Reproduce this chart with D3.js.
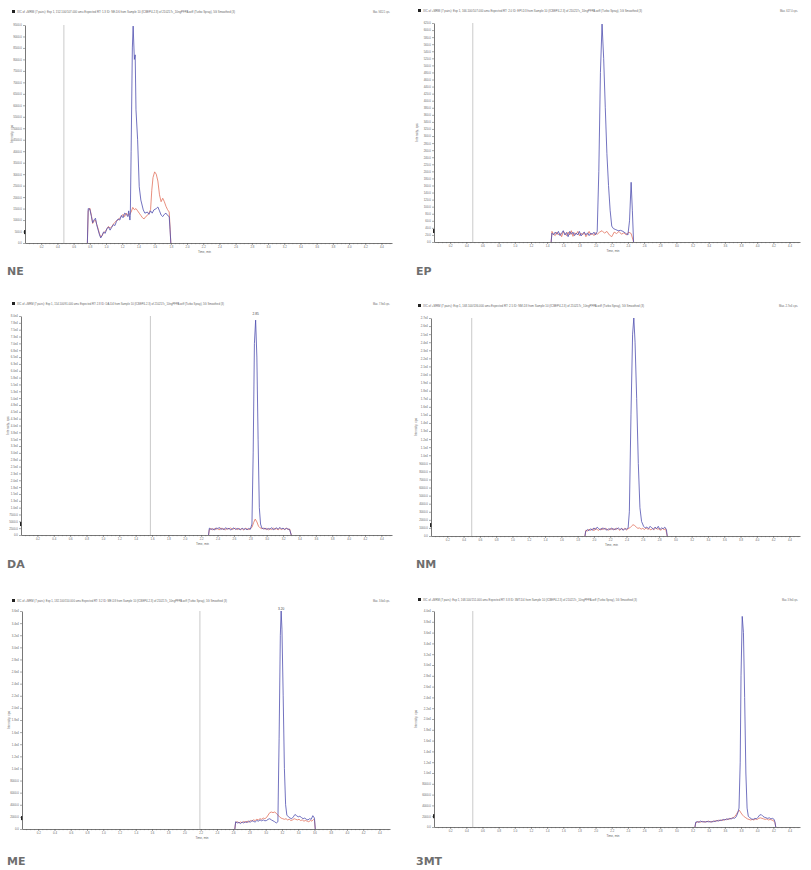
<!DOCTYPE html>
<html><head><meta charset="utf-8">
<script src="https://cdn.jsdelivr.net/npm/d3@7"></script>
<style>body{margin:0;background:#fff}svg{display:block}</style>
</head><body>
<svg id="c" width="811" height="870"></svg>
<script>
// ---------------- DATA ----------------
const panelNames = ["NE", "EP", "DA", "NM", "ME", "3MT"];
const titles = [
  "XIC of +MRM (7 pairs): Exp 1, 152.100/107.000 amu Expected RT: 1.3 ID: NE-D6 from Sample 10 (ICBEP4-2.3) of 210217c_10ngPFPA.wiff (Turbo Spray), 5G Smoothed (3)",
  "XIC of +MRM (7 pairs): Exp 1, 166.100/107.000 amu Expected RT: 2.0 ID: EPI-D3 from Sample 10 (ICBEP4-2.3) of 210217c_10ngPFPA.wiff (Turbo Spray), 5G Smoothed (3)",
  "XIC of +MRM (7 pairs): Exp 1, 154.100/91.000 amu Expected RT: 2.8 ID: DA-D4 from Sample 10 (ICBEP4-2.3) of 210217c_10ngPFPA.wiff (Turbo Spray), 5G Smoothed (3)",
  "XIC of +MRM (7 pairs): Exp 1, 168.100/136.000 amu Expected RT: 2.5 ID: NM-D3 from Sample 10 (ICBEP4-2.3) of 210217c_10ngPFPA.wiff (Turbo Spray), 5G Smoothed (3)",
  "XIC of +MRM (7 pairs): Exp 1, 182.100/150.000 amu Expected RT: 3.2 ID: ME-D3 from Sample 10 (ICBEP4-2.3) of 210217c_10ngPFPA.wiff (Turbo Spray), 5G Smoothed (3)",
  "XIC of +MRM (7 pairs): Exp 1, 168.100/151.000 amu Expected RT: 3.8 ID: 3MT-D4 from Sample 10 (ICBEP4-2.3) of 210217c_10ngPFPA.wiff (Turbo Spray), 5G Smoothed (3)"
];
const maxLabels = ["Max. 9452.1 cps.", "Max. 617.0 cps.", "Max. 7.9e4 cps.", "Max. 2.7e4 cps.", "Max. 3.6e4 cps.", "Max. 3.9e4 cps."];
const yMax = [9500, 620, 80000, 27000, 36000, 40000];
const yStep = [500, 20, 2500, 1000, 2000, 2000];
const xMax = 4.53;
const xTicks = [0.2,0.4,0.6,0.8,1.0,1.2,1.4,1.6,1.8,2.0,2.2,2.4,2.6,2.8,3.0,3.2,3.4,3.6,3.8,4.0,4.2,4.4];
const xTickLabels = ["0.2","0.4","0.6","0.8","1.0","1.2","1.4","1.6","1.8","2.0","2.2","2.4","2.6","2.8","3.0","3.2","3.4","3.6","3.8","4.0","4.2","4.4"];
const markerTimes = [0.48, 0.48, 1.58, 0.5, 2.19, 0.48];
const peakLabelTimes = [null, null, 2.865, null, 3.19, null];
const peakLabelTexts = [null, null, "2.85", null, "3.20", null];
const xTitle = "Time, min";
const yTitle = "Intensity, cps";

const neBlue = [[0.77,0],[0.78,1500],[0.80,1480],[0.82,1150],[0.835,880],[0.85,1000],[0.87,1080],[0.885,800],[0.90,600],[0.92,350],[0.935,220],[0.95,320],[0.97,480],[0.99,420],[1.01,620],[1.03,700],[1.05,560],[1.07,680],[1.09,800],[1.11,760],[1.13,950],[1.15,1050],[1.17,1000],[1.19,1200],[1.21,1100],[1.23,1300],[1.25,1250],[1.27,1150],[1.28,1400],[1.295,1000],[1.30,1200],[1.31,4000],[1.325,8500],[1.335,9452],[1.35,8000],[1.36,8200],[1.37,5800],[1.39,4500],[1.41,2450],[1.43,1870],[1.46,1440],[1.48,1300],[1.51,1350],[1.53,1250],[1.55,1400],[1.57,1300],[1.59,1440],[1.62,1500],[1.64,1570],[1.66,1400],[1.68,1220],[1.70,1150],[1.72,1250],[1.74,1300],[1.76,1200],[1.78,1150],[1.79,600],[1.80,0]];
const neRed = [[0.77,0],[0.78,1400],[0.80,1520],[0.82,1200],[0.835,850],[0.85,950],[0.87,1000],[0.885,820],[0.90,650],[0.92,400],[0.935,260],[0.95,300],[0.97,450],[0.99,500],[1.01,600],[1.03,720],[1.05,650],[1.07,700],[1.09,820],[1.11,900],[1.13,980],[1.15,1000],[1.17,1100],[1.19,1150],[1.21,1250],[1.23,1150],[1.25,1300],[1.27,1200],[1.29,1250],[1.31,1350],[1.33,1550],[1.35,1450],[1.37,1500],[1.39,1400],[1.41,1300],[1.43,1200],[1.45,1100],[1.47,1050],[1.49,1150],[1.51,1200],[1.53,1300],[1.55,1450],[1.565,2300],[1.58,2850],[1.60,3100],[1.62,3000],[1.64,2700],[1.66,2100],[1.68,1800],[1.70,1950],[1.72,1800],[1.74,1600],[1.76,1450],[1.78,1350],[1.79,700],[1.80,0]];

const epBlue = [[1.45,0],[1.46,25],[1.48,20],[1.50,28],[1.52,22],[1.54,30],[1.56,18],[1.58,25],[1.60,32],[1.62,20],[1.64,27],[1.66,15],[1.68,30],[1.70,22],[1.72,28],[1.74,18],[1.76,25],[1.78,20],[1.80,30],[1.82,17],[1.84,24],[1.86,28],[1.88,20],[1.90,26],[1.92,18],[1.94,25],[1.96,22],[1.98,28],[2.00,20],[2.02,30],[2.04,200],[2.06,480],[2.08,617],[2.10,520],[2.12,380],[2.14,250],[2.16,160],[2.18,90],[2.20,45],[2.22,38],[2.25,35],[2.28,32],[2.31,33],[2.34,30],[2.37,25],[2.40,20],[2.42,60],[2.44,169],[2.455,90],[2.47,0]];
const epRed = [[1.45,0],[1.46,30],[1.48,22],[1.50,18],[1.52,28],[1.54,20],[1.56,25],[1.58,15],[1.60,30],[1.62,24],[1.64,18],[1.66,28],[1.68,20],[1.70,32],[1.72,16],[1.74,26],[1.76,22],[1.78,30],[1.80,18],[1.82,25],[1.84,20],[1.86,27],[1.88,15],[1.90,22],[1.92,30],[1.94,20],[1.96,24],[1.98,18],[2.00,26],[2.02,22],[2.05,28],[2.08,32],[2.11,25],[2.14,30],[2.17,20],[2.20,15],[2.23,28],[2.26,24],[2.29,30],[2.32,22],[2.35,26],[2.38,20],[2.41,28],[2.44,24],[2.47,0]];

const daBlue = [[2.29,0],[2.30,2500],[2.32,2000],[2.34,2300],[2.36,1800],[2.38,2600],[2.40,2200],[2.42,2800],[2.44,2000],[2.46,2400],[2.48,1900],[2.50,2700],[2.52,2100],[2.54,2500],[2.56,1800],[2.58,2300],[2.60,2600],[2.62,2000],[2.64,2400],[2.66,2200],[2.68,1900],[2.70,2500],[2.72,2100],[2.74,2300],[2.76,1900],[2.78,2400],[2.80,2100],[2.82,4000],[2.835,30000],[2.85,70000],[2.865,78500],[2.88,65000],[2.895,35000],[2.91,10000],[2.925,4000],[2.94,2600],[2.96,2200],[2.98,2500],[3.00,2000],[3.02,2400],[3.04,2100],[3.06,2700],[3.08,1900],[3.10,2300],[3.12,2600],[3.14,2100],[3.16,2800],[3.18,2200],[3.20,2500],[3.22,2000],[3.24,2400],[3.26,2200],[3.28,2000],[3.30,0]];
const daRed = [[2.29,0],[2.30,2000],[2.32,2400],[2.34,1900],[2.36,2300],[2.38,2000],[2.40,2500],[2.42,1800],[2.44,2600],[2.46,2100],[2.48,2300],[2.50,1900],[2.52,2400],[2.54,2200],[2.56,2600],[2.58,2000],[2.60,2300],[2.62,2500],[2.64,1900],[2.66,2400],[2.68,2100],[2.70,2300],[2.72,1800],[2.74,2500],[2.76,2200],[2.78,2000],[2.80,2300],[2.82,2800],[2.84,4500],[2.86,5800],[2.88,4800],[2.90,3200],[2.92,2600],[2.94,2300],[2.96,2500],[2.98,2100],[3.00,2400],[3.02,1900],[3.04,2300],[3.06,2000],[3.08,2500],[3.10,2100],[3.12,2300],[3.14,1900],[3.16,2400],[3.18,2000],[3.20,2300],[3.22,2100],[3.24,2500],[3.26,2000],[3.28,2200],[3.30,0]];

const nmBlue = [[1.89,0],[1.90,600],[1.92,800],[1.94,650],[1.96,900],[1.98,700],[2.00,1000],[2.02,800],[2.04,1100],[2.06,900],[2.08,750],[2.10,1000],[2.12,850],[2.14,950],[2.16,700],[2.18,900],[2.20,800],[2.22,1000],[2.24,750],[2.26,900],[2.28,850],[2.30,1000],[2.32,800],[2.34,950],[2.36,700],[2.38,900],[2.40,850],[2.42,1000],[2.435,3000],[2.455,15000],[2.475,25000],[2.49,27000],[2.505,24000],[2.525,17000],[2.545,9000],[2.565,3500],[2.585,1800],[2.61,1200],[2.63,1000],[2.65,1100],[2.67,900],[2.69,1200],[2.71,1000],[2.73,800],[2.75,1100],[2.77,900],[2.79,1200],[2.81,800],[2.83,1000],[2.85,900],[2.87,1100],[2.89,800],[2.90,0]];
const nmRed = [[1.89,0],[1.90,700],[1.92,600],[1.94,850],[1.96,700],[1.98,900],[2.00,650],[2.02,950],[2.04,800],[2.06,700],[2.08,900],[2.10,750],[2.12,1000],[2.14,800],[2.16,900],[2.18,700],[2.20,950],[2.22,800],[2.24,900],[2.26,750],[2.28,1000],[2.30,850],[2.32,700],[2.34,900],[2.36,800],[2.38,950],[2.40,750],[2.42,900],[2.44,1000],[2.46,1200],[2.48,1400],[2.50,1300],[2.52,1100],[2.54,950],[2.56,1000],[2.58,850],[2.60,950],[2.62,800],[2.64,1000],[2.66,850],[2.68,900],[2.70,750],[2.72,950],[2.74,800],[2.76,1000],[2.78,850],[2.80,900],[2.82,700],[2.84,950],[2.86,800],[2.88,900],[2.90,0]];

const meBlue = [[2.62,0],[2.63,1200],[2.65,1000],[2.67,1100],[2.69,900],[2.71,1150],[2.73,1000],[2.75,1200],[2.77,1050],[2.79,1300],[2.81,1100],[2.83,1400],[2.85,1250],[2.87,1150],[2.89,1400],[2.91,1300],[2.93,1500],[2.95,1350],[2.97,1500],[2.99,1350],[3.01,1400],[3.03,1600],[3.05,1700],[3.07,1500],[3.09,1350],[3.11,1200],[3.13,1000],[3.15,1200],[3.165,15000],[3.18,32000],[3.19,36000],[3.20,33000],[3.215,22000],[3.23,10000],[3.245,4000],[3.26,2300],[3.28,2000],[3.30,1800],[3.32,1700],[3.34,2000],[3.36,2400],[3.38,2200],[3.40,2000],[3.42,2100],[3.44,1900],[3.46,1700],[3.48,1800],[3.50,1600],[3.52,1500],[3.54,1700],[3.56,1600],[3.58,2200],[3.60,1800],[3.61,0]];
const meRed = [[2.62,0],[2.63,1100],[2.65,1200],[2.67,1000],[2.69,1150],[2.71,1050],[2.73,1250],[2.75,1100],[2.77,1300],[2.79,1150],[2.81,1400],[2.83,1300],[2.85,1500],[2.87,1400],[2.89,1600],[2.91,1500],[2.93,1700],[2.95,1600],[2.97,1800],[2.99,1700],[3.01,1900],[3.03,2300],[3.05,2700],[3.07,2800],[3.09,2700],[3.11,2800],[3.13,2600],[3.15,2300],[3.17,2000],[3.19,1800],[3.21,1700],[3.23,1600],[3.25,1700],[3.27,1500],[3.29,1600],[3.31,1400],[3.33,1500],[3.35,1700],[3.37,1600],[3.39,1500],[3.41,1600],[3.43,1400],[3.45,1500],[3.47,1300],[3.49,1400],[3.51,1300],[3.53,1200],[3.55,1400],[3.57,1300],[3.59,1600],[3.60,1500],[3.61,0]];

const mtBlue = [[3.23,0],[3.24,900],[3.26,1000],[3.28,850],[3.30,1100],[3.32,950],[3.34,1000],[3.36,900],[3.38,1050],[3.40,950],[3.42,1000],[3.44,900],[3.46,1100],[3.48,1000],[3.50,1200],[3.52,1100],[3.54,1300],[3.56,1200],[3.58,1400],[3.60,1300],[3.62,1500],[3.64,1400],[3.66,1600],[3.68,1500],[3.70,1700],[3.72,1600],[3.74,1900],[3.76,2600],[3.775,3500],[3.79,12000],[3.80,28000],[3.815,39000],[3.83,36000],[3.845,24000],[3.86,10000],[3.875,3500],[3.89,2000],[3.91,1700],[3.93,1500],[3.95,1400],[3.97,1600],[3.99,1500],[4.01,1800],[4.03,2200],[4.05,2300],[4.07,2000],[4.09,1800],[4.11,1700],[4.13,1600],[4.15,1700],[4.17,1500],[4.19,1600],[4.21,1400],[4.22,900],[4.23,0]];
const mtRed = [[3.23,0],[3.24,800],[3.26,900],[3.28,1000],[3.30,900],[3.32,1050],[3.34,900],[3.36,1000],[3.38,950],[3.40,1100],[3.42,900],[3.44,1050],[3.46,1000],[3.48,1150],[3.50,1100],[3.52,1250],[3.54,1150],[3.56,1300],[3.58,1250],[3.60,1400],[3.62,1350],[3.64,1500],[3.66,1450],[3.68,1600],[3.70,1700],[3.72,1900],[3.74,2300],[3.76,2800],[3.78,3100],[3.80,2600],[3.82,2200],[3.84,1900],[3.86,1700],[3.88,1500],[3.90,1400],[3.92,1300],[3.94,1400],[3.96,1300],[3.98,1500],[4.00,1400],[4.02,1600],[4.04,1700],[4.06,1600],[4.08,1500],[4.10,1400],[4.12,1500],[4.14,1300],[4.16,1400],[4.18,1300],[4.20,1200],[4.22,800],[4.23,0]];

const blueSeries = [neBlue, epBlue, daBlue, nmBlue, meBlue, mtBlue];
const redSeries  = [neRed, epRed, daRed, nmRed, meRed, mtRed];

// ---------------- LAYOUT ----------------
const layout = [
  {l:25,  r:392, t:25,  b:243, tx:17,  tw:218, ty:13,  mx:373, mw:17, yl:13,  lx:7,   ly:275},
  {l:434, r:800, t:23,  b:242, tx:423, tw:219, ty:12,  mx:780, mw:18, yl:418, lx:416, ly:275},
  {l:21,  r:392, t:316, b:535, tx:17,  tw:207, ty:305, mx:373, mw:17, yl:9,   lx:7,   ly:568},
  {l:431, r:800, t:318, b:536, tx:423, tw:221, ty:307, mx:779, mw:19, yl:417, lx:416, ly:568},
  {l:22,  r:390, t:611, b:829, tx:17,  tw:210, ty:602, mx:373, mw:17, yl:10,  lx:7,   ly:865},
  {l:434, r:800, t:611, b:827, tx:423, tw:214, ty:601, mx:782, mw:16, yl:417, lx:416, ly:865}
];

const svg = d3.select("#c");
const fmtY = v => v === 0 ? "0.0" : (v < 10000 ? v.toFixed(1) : v.toExponential(1).replace("e+", "e"));
const BLUE = "#4f4fb0", RED = "#e2725e", AXIS = "#555", TXT = "#666";
const FONT = "Liberation Sans, Arial, sans-serif";

layout.forEach((L, i) => {
  const g = svg.append("g");
  const x = d3.scaleLinear().domain([0, xMax]).range([L.l, L.r]);
  const y = d3.scaleLinear().domain([0, yMax[i]]).range([L.b, L.t]);

  // title line
  g.append("rect").attr("x", L.tx - 5).attr("y", L.ty - 3).attr("width", 3).attr("height", 3).attr("fill", "#222");
  g.append("text").attr("x", L.tx).attr("y", L.ty).attr("font-size", 3).attr("fill", TXT)
    .attr("font-family", FONT)
    .attr("textLength", L.tw).attr("lengthAdjust", "spacingAndGlyphs").text(titles[i]);
  g.append("text").attr("x", L.mx).attr("y", L.ty).attr("font-size", 3).attr("fill", TXT)
    .attr("font-family", FONT)
    .attr("textLength", L.mw).attr("lengthAdjust", "spacingAndGlyphs").text(maxLabels[i]);

  // vertical marker line
  g.append("line").attr("x1", x(markerTimes[i])).attr("x2", x(markerTimes[i]))
    .attr("y1", L.t).attr("y2", L.b).attr("stroke", "#bbb").attr("stroke-width", 0.8);

  // x axis minor ticks
  const minor = d3.range(1, Math.floor(xMax / 0.05) + 1).map(k => k * 0.05);
  g.append("g").attr("transform", `translate(0,${L.b})`)
    .call(d3.axisBottom(x).tickValues(minor).tickSize(1.2).tickSizeOuter(0).tickFormat(""))
    .call(a => a.selectAll("line").attr("stroke", AXIS).attr("stroke-width", 0.4))
    .call(a => a.select(".domain").remove());
  // x axis major
  g.append("g").attr("transform", `translate(0,${L.b})`)
    .call(d3.axisBottom(x).tickValues(xTicks).tickSize(2).tickSizeOuter(0).tickPadding(0.6)
      .tickFormat((d, k) => xTickLabels[k]))
    .call(a => a.select(".domain").attr("stroke", AXIS).attr("stroke-width", 0.8))
    .call(a => a.selectAll("line").attr("stroke", AXIS).attr("stroke-width", 0.5))
    .call(a => a.selectAll("text").attr("font-size", 2.8).attr("fill", TXT).attr("font-family", FONT));

  // y axis
  const yt = d3.range(0, yMax[i] + 0.5 * yStep[i], yStep[i]);
  g.append("g").attr("transform", `translate(${L.l},0)`)
    .call(d3.axisLeft(y).tickValues(yt).tickSize(2).tickSizeOuter(0).tickPadding(1.2).tickFormat(fmtY))
    .call(a => a.select(".domain").attr("stroke", AXIS).attr("stroke-width", 0.8))
    .call(a => a.selectAll("line").attr("stroke", AXIS).attr("stroke-width", 0.5))
    .call(a => a.selectAll("text").attr("font-size", 2.8).attr("fill", TXT).attr("font-family", FONT));

  // threshold marker on y axis
  g.append("rect").attr("x", L.l - 1).attr("y", y(yMax[i] * 0.05) - 2).attr("width", 1.3).attr("height", 4).attr("fill", "#222");

  // axis titles
  g.append("text").attr("x", (L.l + L.r) / 2 - 4).attr("y", L.b + 9.6).attr("font-size", 3).attr("fill", TXT)
    .attr("text-anchor", "middle").attr("font-family", FONT).text(xTitle);
  g.append("text").attr("transform", `translate(${L.yl},${(L.t + L.b) / 2}) rotate(-90)`)
    .attr("font-size", 3.2).attr("fill", TXT).attr("text-anchor", "middle")
    .attr("font-family", FONT).text(yTitle);

  // traces
  const line = d3.line().x(d => x(d[0])).y(d => y(d[1]));
  g.append("path").datum(redSeries[i]).attr("d", line).attr("fill", "none")
    .attr("stroke", RED).attr("stroke-width", 0.8).attr("stroke-linejoin", "round");
  g.append("path").datum(blueSeries[i]).attr("d", line).attr("fill", "none")
    .attr("stroke", BLUE).attr("stroke-width", 0.8).attr("stroke-linejoin", "round");

  // peak label
  if (peakLabelTimes[i] !== null) {
    g.append("text").attr("x", x(peakLabelTimes[i])).attr("y", L.t - 1.5).attr("font-size", 3.2)
      .attr("fill", "#444").attr("text-anchor", "middle")
      .attr("font-family", FONT).text(peakLabelTexts[i]);
  }

  // panel name
  g.append("text").attr("x", L.lx).attr("y", L.ly).attr("font-size", 11).attr("font-weight", "bold")
    .attr("fill", "#6e6e6e").attr("font-family", "DejaVu Sans, sans-serif").text(panelNames[i]);
});
</script>
</body></html>
